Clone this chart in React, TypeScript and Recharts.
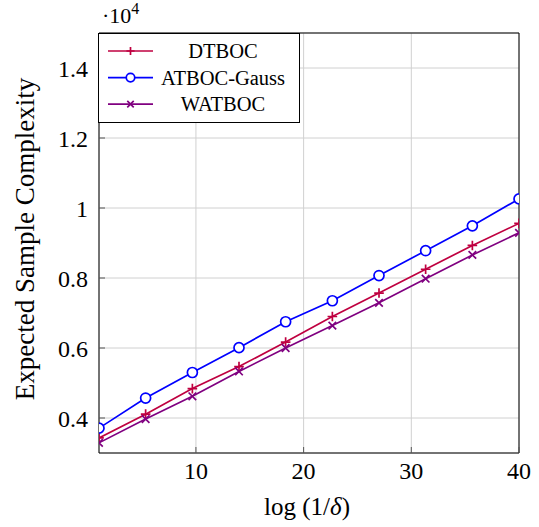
import React from "react";
import {
  LineChart,
  Line,
  XAxis,
  YAxis,
  CartesianGrid,
  ReferenceArea,
  Legend,
  Label,
} from "recharts";

// log(1/delta) sample points
const xValues = [1, 5.33, 9.67, 14, 18.33, 22.67, 27, 31.33, 35.67, 40];

// expected sample complexity, in units of 10^4
const dtboc = [0.343, 0.411, 0.484, 0.547, 0.617, 0.69, 0.757, 0.825, 0.893, 0.956];
const atbocGauss = [0.371, 0.457, 0.53, 0.601, 0.675, 0.735, 0.807, 0.878, 0.949, 1.026];
const watboc = [0.329, 0.397, 0.462, 0.533, 0.6, 0.664, 0.729, 0.798, 0.866, 0.929];

const xTicks = [10, 20, 30, 40];
const yTicks = [0.4, 0.6, 0.8, 1, 1.2, 1.4];
const seriesNames = ["DTBOC", "ATBOC-Gauss", "WATBOC"];

const RED = "#bf0040";
const BLUE = "#0000ff";
const VIOLET = "#800080";
const FONT = "'Liberation Serif', 'DejaVu Serif', serif";

const data = xValues.map((x, i) => ({
  x,
  dtboc: dtboc[i],
  atboc: atbocGauss[i],
  watboc: watboc[i],
}));

type Mark = "plus" | "circle" | "cross";

function Marker({ cx, cy, kind, color, size = 1 }: { cx: number; cy: number; kind: Mark; color: string; size?: number }) {
  const s = 4.8 * size;
  if (kind === "circle") {
    return <circle cx={cx} cy={cy} r={5 * size} fill="#fff" stroke={color} strokeWidth={1.7} />;
  }
  if (kind === "plus") {
    return (
      <path
        d={`M${cx - s},${cy}H${cx + s}M${cx},${cy - s}V${cy + s}`}
        stroke={color}
        strokeWidth={1.7}
        fill="none"
      />
    );
  }
  const c = 3.8 * size;
  return (
    <path
      d={`M${cx - c},${cy - c}L${cx + c},${cy + c}M${cx - c},${cy + c}L${cx + c},${cy - c}`}
      stroke={color}
      strokeWidth={1.7}
      fill="none"
    />
  );
}

const makeDot = (kind: Mark, color: string) => (props: any) => {
  const { cx, cy, index } = props;
  return (
    <g key={`${kind}-${index}`}>
      <Marker cx={cx} cy={cy} kind={kind} color={color} />
    </g>
  );
};

const legendItems: { name: string; color: string; kind: Mark }[] = [
  { name: seriesNames[0], color: RED, kind: "plus" },
  { name: seriesNames[1], color: BLUE, kind: "circle" },
  { name: seriesNames[2], color: VIOLET, kind: "cross" },
];

function LegendBox() {
  return (
    <svg width={202} height={90} style={{ display: "block" }}>
      <rect x={0.5} y={0.5} width={201} height={89} fill="#fff" stroke="#000" strokeWidth={1} />
      {legendItems.map((it, i) => {
        const cy = 18 + i * 26.6;
        return (
          <g key={it.name}>
            <line x1={10} x2={55} y1={cy} y2={cy} stroke={it.color} strokeWidth={1.7} />
            <Marker cx={32.5} cy={cy} kind={it.kind} color={it.color} size={0.85} />
            <text
              x={125}
              y={cy + 7}
              textAnchor="middle"
              fontFamily={FONT}
              fontSize={20.5}
              fill="#000"
            >
              {it.name}
            </text>
          </g>
        );
      })}
    </svg>
  );
}

const fmtY = (v: number) => String(parseFloat(v.toFixed(1)));

export default function App() {
  return (
    <div style={{ position: "absolute", left: 0, top: 0, width: 539, height: 527, background: "#fff" }}>
      <LineChart
        width={539}
        height={527}
        data={data}
        margin={{ top: 33, right: 20, bottom: 0, left: 0 }}
      >
        <CartesianGrid stroke="#d0d0d0" strokeWidth={1} />
        <XAxis
          dataKey="x"
          type="number"
          domain={[1, 40]}
          ticks={xTicks}
          allowDataOverflow
          height={74}
          axisLine={false}
          tickSize={-6}
          tickMargin={15}
          tickLine={{ stroke: "#555" }}
          tick={{ fill: "#000", fontSize: 24, fontFamily: FONT }}
        >
          <Label
            content={(p: any) => {
              const vb = p.viewBox;
              return (
                <text
                  x={vb.x + vb.width / 2 - 2}
                  y={515}
                  textAnchor="middle"
                  fontFamily={FONT}
                  fontSize={25}
                  fill="#000"
                >
                  log (1/<tspan fontStyle="italic">δ</tspan>)
                </text>
              );
            }}
          />
        </XAxis>
        <XAxis
          xAxisId="top"
          orientation="top"
          type="number"
          domain={[1, 40]}
          ticks={xTicks}
          allowDataOverflow
          height={0}
          axisLine={false}
          tickSize={-6}
          tickLine={{ stroke: "#555" }}
          tick={false}
        />
        <YAxis
          type="number"
          domain={[0.3, 1.5]}
          ticks={yTicks}
          allowDataOverflow
          width={99}
          axisLine={false}
          tickSize={-6}
          tickMargin={17}
          tickLine={{ stroke: "#555" }}
          tickFormatter={fmtY}
          tick={{ fill: "#000", fontSize: 24, fontFamily: FONT }}
        >
          <Label
            content={(p: any) => {
              const vb = p.viewBox;
              const cx = 34;
              const cy = vb.y + vb.height / 2 - 4;
              return (
                <g>
                  <text
                    x={cx}
                    y={cy}
                    transform={`rotate(-90 ${cx} ${cy})`}
                    textAnchor="middle"
                    fontFamily={FONT}
                    fontSize={27}
                    fill="#000"
                  >
                    Expected Sample Complexity
                  </text>
                  <text x={102} y={23} fontFamily={FONT} fontSize={22} fill="#000">
                    ·10
                    <tspan fontSize={16} dy={-9}>
                      4
                    </tspan>
                  </text>
                </g>
              );
            }}
          />
        </YAxis>
        <YAxis
          yAxisId="right"
          orientation="right"
          type="number"
          domain={[0.3, 1.5]}
          ticks={yTicks}
          allowDataOverflow
          width={0}
          axisLine={false}
          tickSize={-6}
          tickLine={{ stroke: "#555" }}
          tick={false}
        />
        <ReferenceArea x1={1} x2={40} y1={0.3} y2={1.5} fill="none" stroke="#000" strokeWidth={1} fillOpacity={0} />
        <Line
          dataKey="dtboc"
          name={seriesNames[0]}
          stroke={RED}
          strokeWidth={1.7}
          dot={makeDot("plus", RED)}
          activeDot={false}
          isAnimationActive={false}
        />
        <Line
          dataKey="atboc"
          name={seriesNames[1]}
          stroke={BLUE}
          strokeWidth={1.7}
          dot={makeDot("circle", BLUE)}
          activeDot={false}
          isAnimationActive={false}
        />
        <Line
          dataKey="watboc"
          name={seriesNames[2]}
          stroke={VIOLET}
          strokeWidth={1.7}
          dot={makeDot("cross", VIOLET)}
          activeDot={false}
          isAnimationActive={false}
        />
        <Legend
          layout="horizontal"
          verticalAlign="middle"
          content={() => <LegendBox />}
          wrapperStyle={{ top: 33, left: 98, width: 202, height: 90 }}
        />
      </LineChart>
    </div>
  );
}
